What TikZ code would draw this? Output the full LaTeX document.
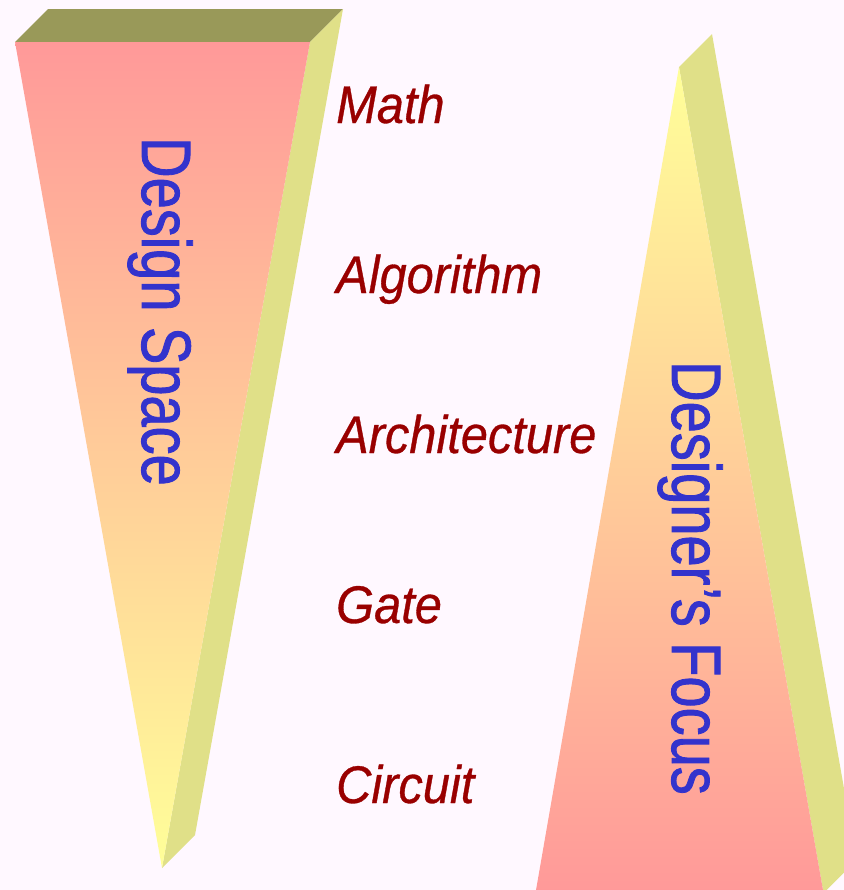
\documentclass[tikz,border=0pt]{standalone}
\usepackage{fontspec}
\setmainfont{Liberation Sans}
\newfontfamily\labelfont{Liberation Sans}[FakeStretch=0.92,FakeBold=0.6]
\newfontfamily\vertfont{Liberation Sans}[FakeStretch=0.8,FakeBold=1.2]
\definecolor{bg}{RGB}{255,248,255}
\definecolor{pinkf}{RGB}{255,153,153}
\definecolor{yellowf}{RGB}{255,255,153}
\definecolor{sidef}{RGB}{224,224,136}
\definecolor{topf}{RGB}{153,153,89}
\definecolor{labelred}{RGB}{153,0,0}
\definecolor{vblue}{RGB}{51,51,204}
\tikzset{
  levellabel/.style={anchor=base west,inner sep=0pt,text=labelred,font=\labelfont\itshape\fontsize{53bp}{60bp}\selectfont},
  verttext/.style={anchor=base west,inner sep=0pt,rotate=-90,text=vblue,font=\vertfont\fontsize{70bp}{80bp}\selectfont},
}
\begin{document}
\begin{tikzpicture}[x=1bp,y=-1bp]
\useasboundingbox (0,0) rectangle (844,890);
\fill[bg] (0,0) rectangle (844,890);
\begin{scope}
\clip (0,0) rectangle (844,890);
% left wedge
\fill[topf] (15,42) -- (48,9) -- (343,9) -- (310,42) -- cycle;
\fill[sidef] (310,42) -- (343,9) -- (195,835) -- (162,868) -- cycle;
\shade[top color=pinkf,bottom color=yellowf] (15,42) -- (310,42) -- (162,868) -- cycle;
% right wedge
\fill[sidef] (679,67) -- (712,34) -- (856.5,860) -- (823.5,893) -- cycle;
\shade[top color=yellowf,bottom color=pinkf] (679,67) -- (823.5,893) -- (535.5,893) -- cycle;
\end{scope}
\node[verttext] (space) at (142,137) {Design Space};
\node[verttext] (focus) at (672,361) {Designer’s Focus};
\node[levellabel] (math) at (336,123) {Math};
\node[levellabel] (alg) at (336,293) {Algorithm};
\node[levellabel] (arch) at (336,453) {Architecture};
\node[levellabel] (gate) at (336,623) {Gate};
\node[levellabel] (circ) at (336,803) {Circuit};
\end{tikzpicture}
\end{document}
